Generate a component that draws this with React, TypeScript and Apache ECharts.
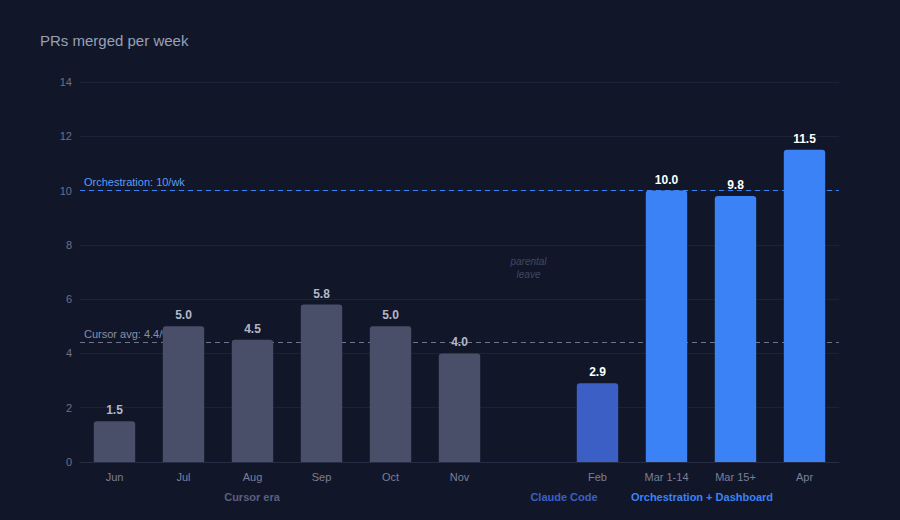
import React, { useEffect, useRef } from "react";
import * as echarts from "echarts";

const categories = ["Jun", "Jul", "Aug", "Sep", "Oct", "Nov", "", "Feb", "Mar 1-14", "Mar 15+", "Apr"];
const values: (number | null)[] = [1.5, 5.0, 4.5, 5.8, 5.0, 4.0, null, 2.9, 10.0, 9.8, 11.5];
const eras = ["cursor", "cursor", "cursor", "cursor", "cursor", "cursor", "none", "claude", "orch", "orch", "orch"];
const yTicks = { min: 0, max: 14, interval: 2 };
const cursorAvg = 4.4;
const orchestrationRate = 10;
const leaveNote = { category: 6, value: 7.15, text: "parental\nleave" };

const BG = "#111729";
const FONT = "'Liberation Sans', Arial, Helvetica, sans-serif";
const eraColor: Record<string, string> = {
  cursor: "#4a4f69",
  claude: "#3b5fc5",
  orch: "#3b82f6",
  none: "#000",
};
const eraLabelColor: Record<string, string> = {
  cursor: "#b3b7c9",
  claude: "#ffffff",
  orch: "#ffffff",
  none: "#fff",
};

export default function App() {
  const ref = useRef<HTMLDivElement>(null);
  useEffect(() => {
    document.body.style.margin = "0";
    document.body.style.background = BG;
    const chart = echarts.init(ref.current!, null, { renderer: "svg" });
    const data = values.map((v, i) => ({
      value: v,
      itemStyle: { color: eraColor[eras[i]], borderRadius: [3, 3, 0, 0] },
      label: { color: eraLabelColor[eras[i]] },
    }));
    chart.setOption({
      animation: false,
      backgroundColor: BG,
      textStyle: { fontFamily: FONT },
      title: {
        text: "PRs merged per week",
        left: 35,
        top: 28,
        textStyle: { color: "#9aa0b6", fontSize: 15, fontWeight: "normal", fontFamily: FONT },
      },
      grid: { left: 80, right: 61, top: 82, bottom: 58 },
      xAxis: {
        type: "category",
        data: categories,
        axisLine: { lineStyle: { color: "#262c44" } },
        axisTick: { show: false },
        axisLabel: { color: "#7a7f98", fontSize: 11, margin: 9, fontFamily: FONT },
      },
      yAxis: {
        type: "value",
        min: yTicks.min,
        max: yTicks.max,
        interval: yTicks.interval,
        axisLine: { show: false },
        axisTick: { show: false },
        axisLabel: { color: "#6b7089", fontSize: 11, margin: 8, fontFamily: FONT },
        splitLine: { lineStyle: { color: "#1c2238", width: 1 } },
      },
      series: [
        {
          type: "line",
          data: [],
          z: 1,
          silent: true,
          markLine: {
            symbol: "none",
            silent: true,
            z: 1,
            data: [
              {
                yAxis: cursorAvg,
                lineStyle: { color: "#6f7590", type: [5, 4], width: 1 },
                label: {
                  formatter: "Cursor avg: 4.4/wk",
                  position: "insideStartTop",
                  color: "#8a8fa8",
                  fontSize: 11,
                  fontFamily: FONT,
                  distance: [4, 3],
                },
              },
              {
                yAxis: orchestrationRate,
                lineStyle: { color: "#3b82f6", type: [5, 4], width: 1 },
                label: {
                  formatter: "Orchestration: 10/wk",
                  position: "insideStartTop",
                  color: "#5b9cf8",
                  fontSize: 11,
                  fontFamily: FONT,
                  distance: [4, 3],
                },
              },
            ],
          },
        },
        {
          type: "scatter",
          z: 2,
          silent: true,
          symbolSize: 1,
          itemStyle: { color: "rgba(0,0,0,0)" },
          data: [[leaveNote.category, leaveNote.value]],
          label: {
            show: true,
            position: "inside",
            formatter: leaveNote.text,
            color: "#4f5572",
            fontSize: 10,
            fontStyle: "italic",
            lineHeight: 13,
            fontFamily: FONT,
          },
        },
        {
          type: "bar",
          data,
          z: 10,
          barWidth: "60%",
          label: {
            show: true,
            position: "top",
            distance: 5,
            fontSize: 12,
            fontWeight: "bold",
            fontFamily: FONT,
            formatter: (p: any) => (p.value == null ? "" : Number(p.value).toFixed(1)),
          },
        },
      ],
      graphic: [
        {
          type: "text",
          x: 252,
          y: 497,
          style: { text: "Cursor era", fill: "#5a6080", font: `bold 11px ${FONT}`, textAlign: "center", textVerticalAlign: "middle" },
        },
        {
          type: "text",
          x: 564,
          y: 497,
          style: { text: "Claude Code", fill: "#3b5fc5", font: `bold 11px ${FONT}`, textAlign: "center", textVerticalAlign: "middle" },
        },
        {
          type: "text",
          x: 702,
          y: 497,
          style: { text: "Orchestration + Dashboard", fill: "#3b82f6", font: `bold 11px ${FONT}`, textAlign: "center", textVerticalAlign: "middle" },
        },
      ],
    });
    return () => chart.dispose();
  }, []);
  return <div ref={ref} style={{ position: "absolute", left: 0, top: 0, width: 900, height: 520 }} />;
}
